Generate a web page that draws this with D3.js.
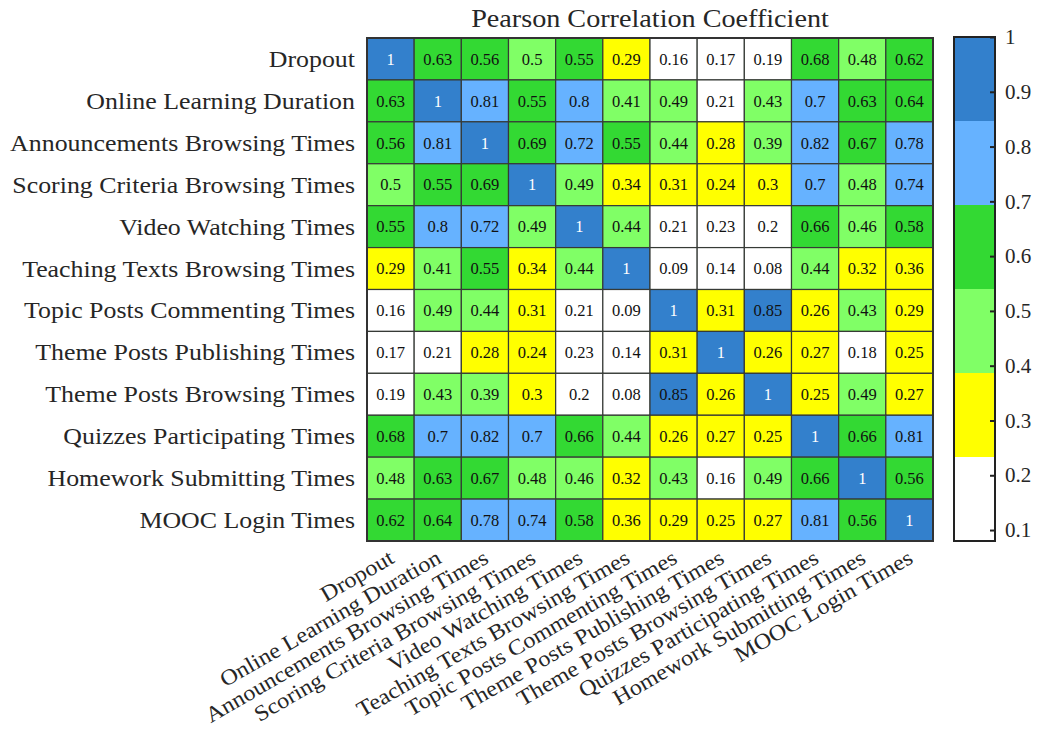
<!DOCTYPE html>
<html>
<head>
<meta charset="utf-8">
<script src="https://cdn.jsdelivr.net/npm/d3@7"></script>
<style>
  body { margin: 0; background: #fff; }
  svg { display: block; font-family: "Liberation Serif", "Times New Roman", serif; }
</style>
</head>
<body>
<svg id="chart" width="1037" height="731"></svg>
<script>
const WIDTH = 1037;
const HEIGHT = 731;

const VARIABLES = [
  "Dropout",
  "Online Learning Duration",
  "Announcements Browsing Times",
  "Scoring Criteria Browsing Times",
  "Video Watching Times",
  "Teaching Texts Browsing Times",
  "Topic Posts Commenting Times",
  "Theme Posts Publishing Times",
  "Theme Posts Browsing Times",
  "Quizzes Participating Times",
  "Homework Submitting Times",
  "MOOC Login Times"
];

// one row per variable, same order as VARIABLES
const CORRELATIONS = [
  [1, 0.63, 0.56, 0.5, 0.55, 0.29, 0.16, 0.17, 0.19, 0.68, 0.48, 0.62],
  [0.63, 1, 0.81, 0.55, 0.8, 0.41, 0.49, 0.21, 0.43, 0.7, 0.63, 0.64],
  [0.56, 0.81, 1, 0.69, 0.72, 0.55, 0.44, 0.28, 0.39, 0.82, 0.67, 0.78],
  [0.5, 0.55, 0.69, 1, 0.49, 0.34, 0.31, 0.24, 0.3, 0.7, 0.48, 0.74],
  [0.55, 0.8, 0.72, 0.49, 1, 0.44, 0.21, 0.23, 0.2, 0.66, 0.46, 0.58],
  [0.29, 0.41, 0.55, 0.34, 0.44, 1, 0.09, 0.14, 0.08, 0.44, 0.32, 0.36],
  [0.16, 0.49, 0.44, 0.31, 0.21, 0.09, 1, 0.31, 0.85, 0.26, 0.43, 0.29],
  [0.17, 0.21, 0.28, 0.24, 0.23, 0.14, 0.31, 1, 0.26, 0.27, 0.18, 0.25],
  [0.19, 0.43, 0.39, 0.3, 0.2, 0.08, 0.85, 0.26, 1, 0.25, 0.49, 0.27],
  [0.68, 0.7, 0.82, 0.7, 0.66, 0.44, 0.26, 0.27, 0.25, 1, 0.66, 0.81],
  [0.48, 0.63, 0.67, 0.48, 0.46, 0.32, 0.43, 0.16, 0.49, 0.66, 1, 0.56],
  [0.62, 0.64, 0.78, 0.74, 0.58, 0.36, 0.29, 0.25, 0.27, 0.81, 0.56, 1]
];

const COLOR_DOMAIN = [0.08, 1];
const BAND_COLORS = ["#ffffff", "#ffff00", "#80ff66", "#33d933", "#66b2ff", "#3380cc"];
const COLORBAR_TICKS = [0.1, 0.2, 0.3, 0.4, 0.5, 0.6, 0.7, 0.8, 0.9, 1];
const TITLE = "Pearson Correlation Coefficient";

const GRID = { left: 367, right: 933, top: 38, bottom: 541 };
const BAR = { left: 954, right: 995, top: 37, bottom: 541 };
const TEXT_COLOR = "#262626";
const SERIF = "Liberation Serif, Times New Roman, serif";

const svg = d3.select("#chart");

const x = d3.scaleBand().domain(VARIABLES).range([GRID.left, GRID.right]);
const y = d3.scaleBand().domain(VARIABLES).range([GRID.top, GRID.bottom]);
const color = d3.scaleQuantize().domain(COLOR_DOMAIN).range(BAND_COLORS);

const cells = [];
CORRELATIONS.forEach((row, i) => {
  row.forEach((value, j) => {
    cells.push({ rowName: VARIABLES[i], colName: VARIABLES[j], value });
  });
});

// heatmap cells
const cellGroup = svg.append("g").attr("class", "cells");

cellGroup.selectAll("rect")
  .data(cells)
  .join("rect")
  .attr("x", (d) => x(d.colName))
  .attr("y", (d) => y(d.rowName))
  .attr("width", x.bandwidth())
  .attr("height", y.bandwidth())
  .attr("fill", (d) => color(d.value))
  .attr("stroke", "#363a36")
  .attr("stroke-width", 1.2);

cellGroup.selectAll("text")
  .data(cells)
  .join("text")
  .attr("x", (d) => x(d.colName) + x.bandwidth() / 2)
  .attr("y", (d) => y(d.rowName) + y.bandwidth() / 2)
  .attr("dy", "0.35em")
  .attr("text-anchor", "middle")
  .attr("font-size", 16.5)
  .attr("fill", (d) => (d.value >= 0.95 ? "#ffffff" : "#111111"))
  .text((d) => d3.format("~g")(d.value));

svg.append("rect")
  .attr("x", GRID.left)
  .attr("y", GRID.top)
  .attr("width", GRID.right - GRID.left)
  .attr("height", GRID.bottom - GRID.top)
  .attr("fill", "none")
  .attr("stroke", "#333")
  .attr("stroke-width", 2);

// row labels
const yAxis = svg.append("g")
  .attr("transform", `translate(${GRID.left},0)`)
  .call(d3.axisLeft(y).tickSize(0));

yAxis.select(".domain").remove();
yAxis.selectAll("text")
  .attr("x", null)
  .attr("dy", null)
  .attr("dominant-baseline", "central")
  .attr("transform", "translate(-12,0) scale(1.125,1)")
  .attr("font-size", 23)
  .attr("font-family", SERIF)
  .attr("fill", TEXT_COLOR);

// column labels, rotated
const xAxis = svg.append("g")
  .attr("transform", `translate(0,${GRID.bottom})`)
  .call(d3.axisBottom(x).tickSize(0));

xAxis.select(".domain").remove();
xAxis.selectAll("text")
  .attr("x", 0)
  .attr("y", 0)
  .attr("dy", null)
  .attr("text-anchor", "end")
  .attr("transform", "translate(5,21) rotate(-30) scale(1.1,1)")
  .attr("font-size", 22)
  .attr("font-family", SERIF)
  .attr("fill", TEXT_COLOR);

// title
svg.append("text")
  .attr("transform", `translate(${(GRID.left + GRID.right) / 2},27) scale(1.15,1)`)
  .attr("text-anchor", "middle")
  .attr("font-size", 24.5)
  .attr("fill", TEXT_COLOR)
  .text(TITLE);

// colorbar
const barScale = d3.scaleLinear().domain(COLOR_DOMAIN).range([BAR.bottom, BAR.top]);

svg.append("g")
  .selectAll("rect")
  .data(BAND_COLORS)
  .join("rect")
  .attr("x", BAR.left)
  .attr("width", BAR.right - BAR.left)
  .attr("y", (c) => barScale(color.invertExtent(c)[1]))
  .attr("height", (c) => barScale(color.invertExtent(c)[0]) - barScale(color.invertExtent(c)[1]))
  .attr("fill", (c) => c);

const barAxis = svg.append("g")
  .attr("transform", `translate(${BAR.right},0)`)
  .call(d3.axisRight(barScale)
    .tickValues(COLORBAR_TICKS)
    .tickFormat(d3.format("~g"))
    .tickSize(-5)
    .tickPadding(10));

barAxis.select(".domain").remove();
barAxis.selectAll("line").attr("stroke", "#222").attr("stroke-width", 2);
barAxis.selectAll("text")
  .attr("font-size", 21)
  .attr("font-family", SERIF)
  .attr("fill", TEXT_COLOR);

svg.append("rect")
  .attr("x", BAR.left)
  .attr("y", BAR.top)
  .attr("width", BAR.right - BAR.left)
  .attr("height", BAR.bottom - BAR.top)
  .attr("fill", "none")
  .attr("stroke", "#222")
  .attr("stroke-width", 2);
</script>
</body>
</html>
